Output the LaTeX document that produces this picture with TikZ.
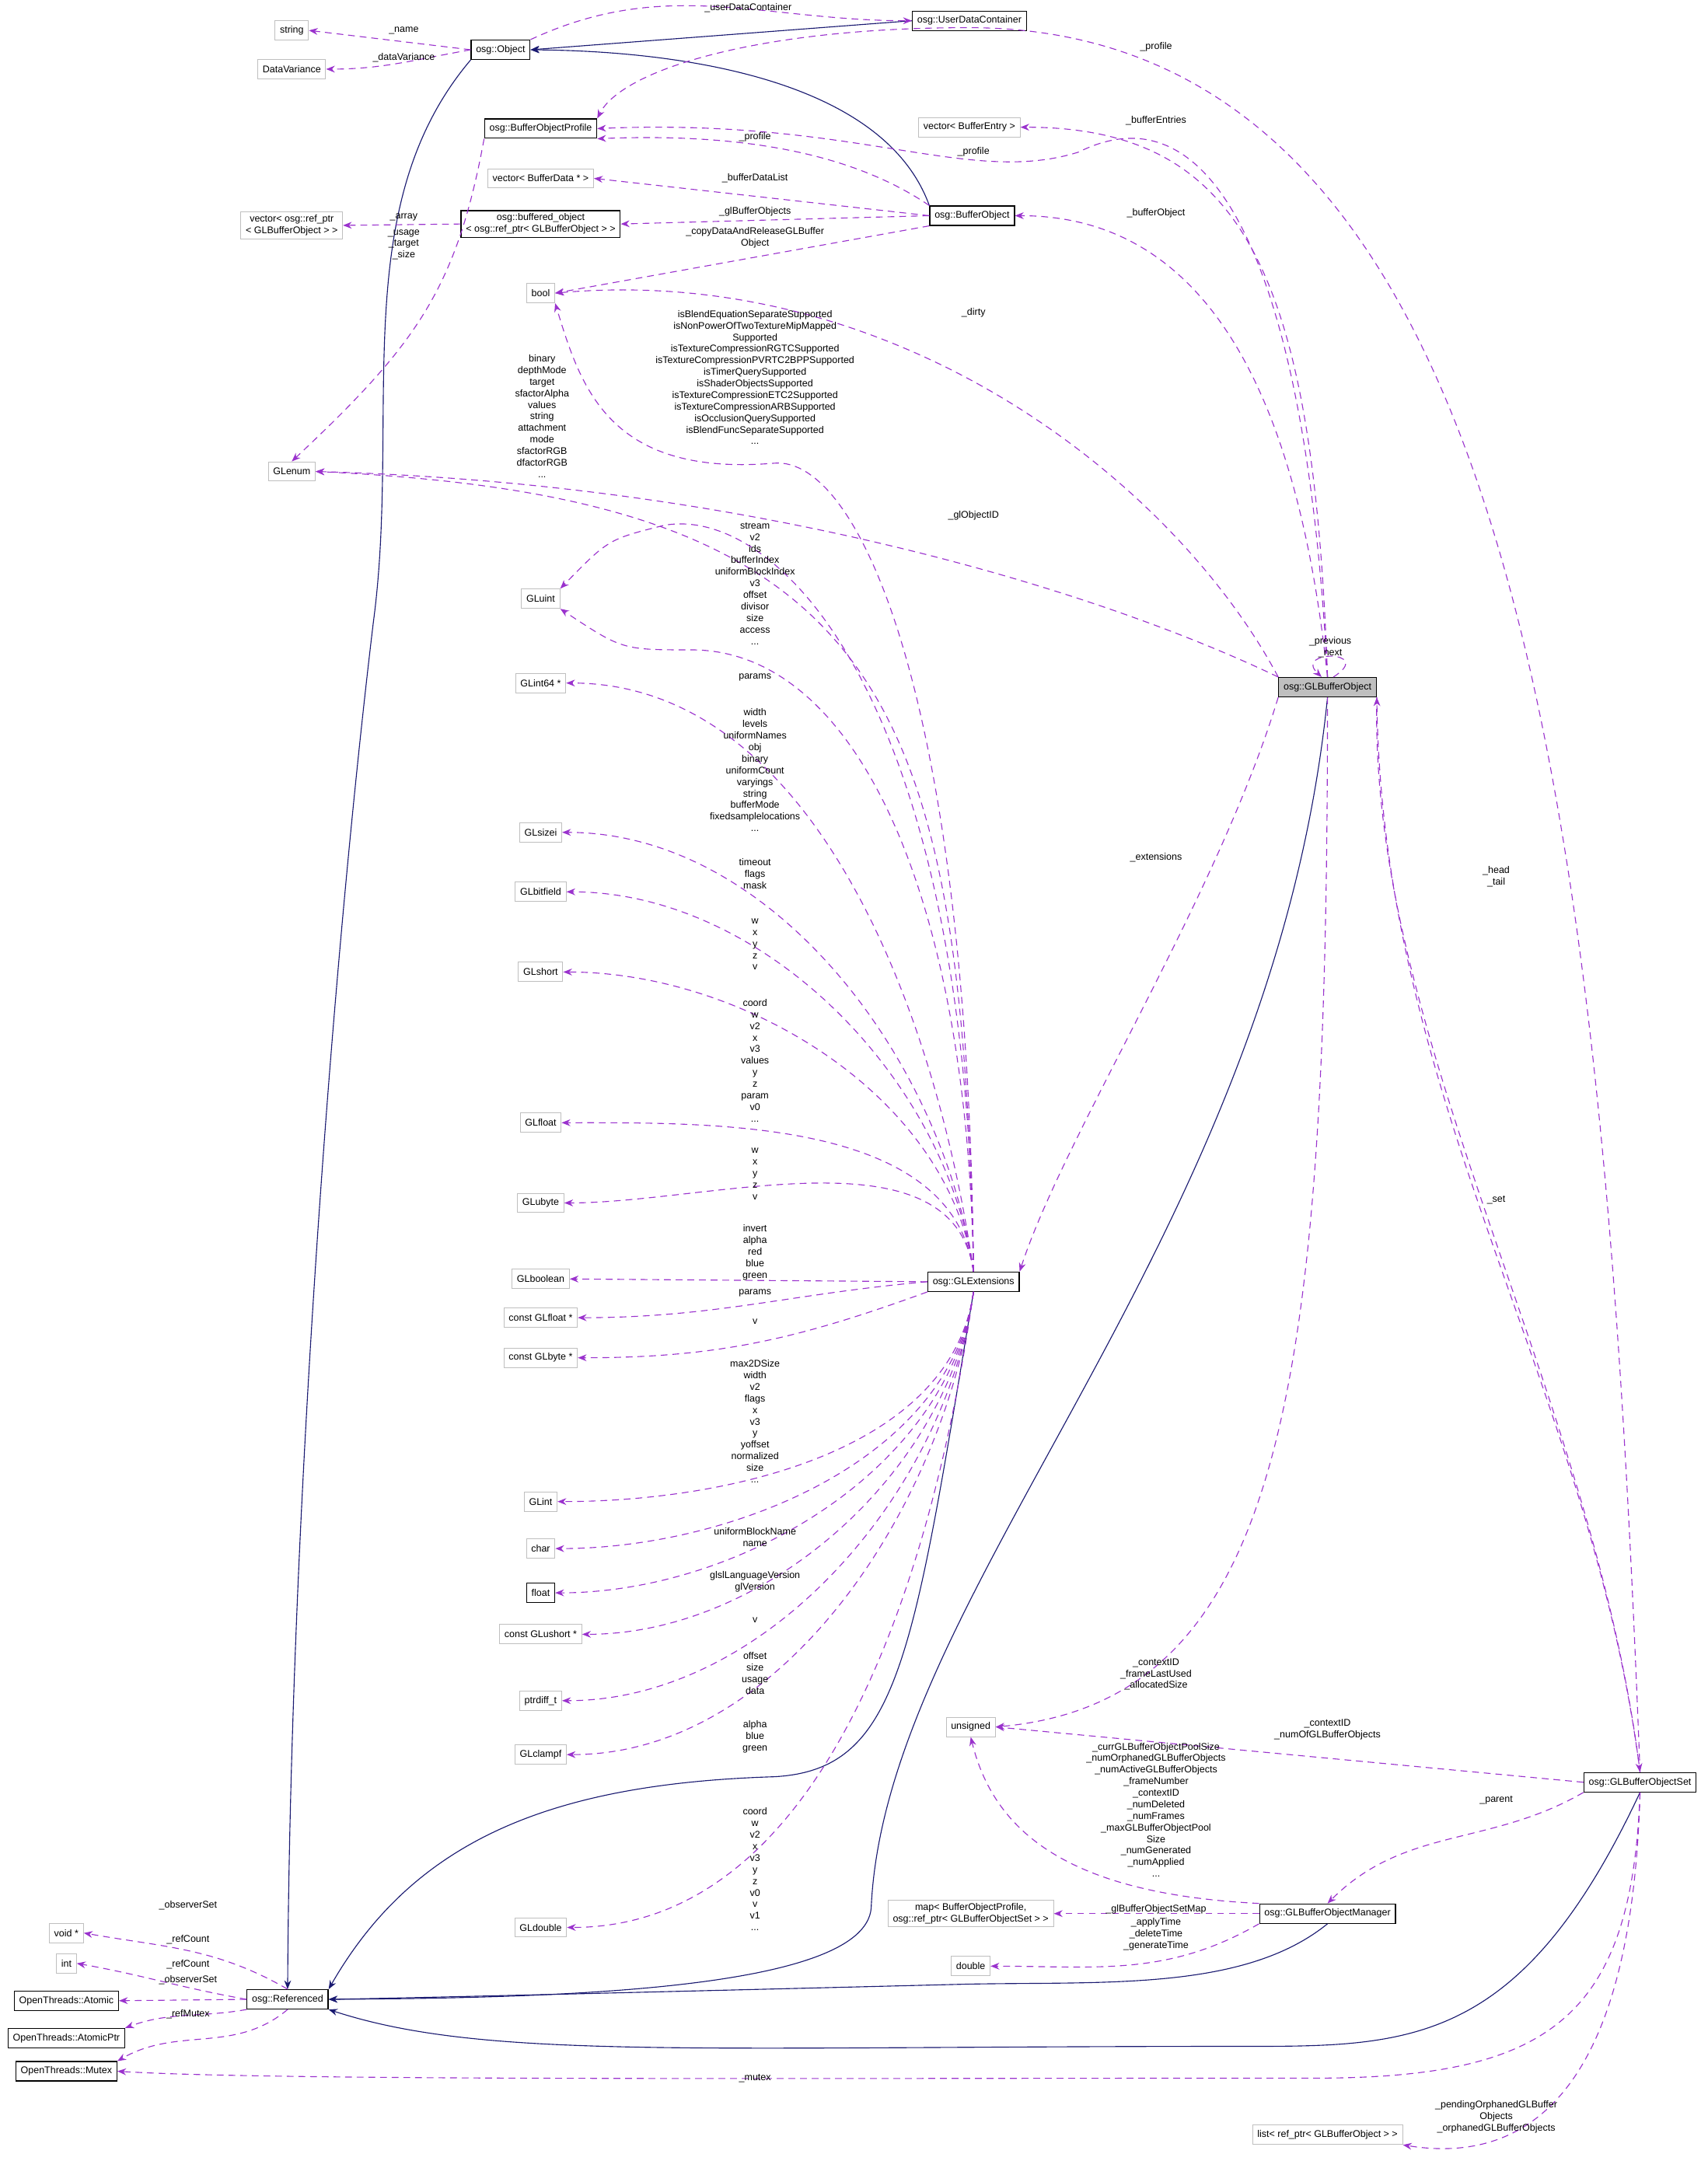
\documentclass[tikz,border=0pt]{standalone}
\usepackage{fontspec}
\setmainfont{Liberation Sans}
\usetikzlibrary{arrows.meta}
\definecolor{mem}{HTML}{9A32CD}
\definecolor{inhc}{HTML}{191970}
\definecolor{gb}{HTML}{BFBFBF}
\tikzset{
 box/.style={draw=gb,line width=0.8pt,rectangle,minimum height=0.7cm,inner xsep=5pt,inner ysep=2pt,font=\fontsize{10}{12}\selectfont,align=center,fill=white},
 cbox/.style={box,draw=black,line width=1pt},
 memb/.style={draw=mem,dash pattern=on 7pt off 5pt,line width=0.9pt,-{Stealth[length=9pt,width=7pt]}},
 inh/.style={draw=inhc,line width=0.9pt,-{Stealth[length=9pt,width=7pt]}},
 lbl/.style={font=\fontsize{10}{11.9}\selectfont,align=center,inner sep=0pt}
}
\begin{document}
\begin{tikzpicture}[x=0.05cm,y=-0.05cm]
\useasboundingbox (0,0) rectangle (1235,1568);
% nodes
\node[box] (str) at (211,22) {string};
\node[box] (dv) at (211,50) {DataVariance};
\node[cbox] (obj) at (362,36) {osg::Object};
\node[cbox] (udc) at (701,15) {osg::UserDataContainer};
\node[cbox] (bop) at (391,93) {osg::BufferObjectProfile};
\node[box] (vbe) at (701,92) {vector< BufferEntry >};
\node[box] (vbd) at (391,129) {vector< BufferData * >};
\node[box,inner ysep=3pt] (vref) at (211,163) {vector< osg::ref\_ptr\\< GLBufferObject > >};
\node[cbox,inner ysep=3pt] (bof) at (391,162) {osg::buffered\_object\\< osg::ref\_ptr< GLBufferObject > >};
\node[cbox] (bo) at (703,156) {osg::BufferObject};
\node[box] (bool) at (391,212) {bool};
\node[box] (glenum) at (211,341) {GLenum};
\node[box] (gluint) at (391,433) {GLuint};
\node[box] (gli64) at (391,494) {GLint64 *};
\node[box] (glsizei) at (391,602) {GLsizei};
\node[box] (glbf) at (391,645) {GLbitfield};
\node[box] (glshort) at (391,703) {GLshort};
\node[box] (glfloat) at (391,812) {GLfloat};
\node[box] (glubyte) at (391,870) {GLubyte};
\node[box] (glbool) at (391,925) {GLboolean};
\node[box] (cglf) at (391,953) {const GLfloat *};
\node[box] (cglb) at (391,982) {const GLbyte *};
\node[box] (glint) at (391,1086) {GLint};
\node[box] (chr) at (391,1120) {char};
\node[cbox] (flt) at (391,1152) {float};
\node[box] (cglus) at (391,1182) {const GLushort *};
\node[box] (ptrd) at (391,1230) {ptrdiff\_t};
\node[box] (glclampf) at (391,1269) {GLclampf};
\node[box] (gldouble) at (391,1394) {GLdouble};
\node[cbox] (ext) at (704,927) {osg::GLExtensions};
\node[cbox,fill=gb] (glbo) at (960,497) {osg::GLBufferObject};
\node[box] (uns) at (702,1249) {unsigned};
\node[cbox] (set) at (1186,1289) {osg::GLBufferObjectSet};
\node[cbox] (mgr) at (960,1384) {osg::GLBufferObjectManager};
\node[box,inner ysep=3pt] (map) at (702,1384) {map< BufferObjectProfile,\\ osg::ref\_ptr< GLBufferObjectSet > >};
\node[box] (dbl) at (702,1422) {double};
\node[box] (lst) at (960,1544) {list< ref\_ptr< GLBufferObject > >};
\node[box] (voidp) at (48,1398) {void *};
\node[box] (int) at (48,1420) {int};
\node[cbox] (atom) at (48,1447) {OpenThreads::Atomic};
\node[cbox] (atomp) at (48,1474) {OpenThreads::AtomicPtr};
\node[cbox] (mutex) at (48,1498) {OpenThreads::Mutex};
\node[cbox] (ref) at (208,1446) {osg::Referenced};

% inheritance
\draw[inh] (udc.west) -- (obj.east);
\draw[inh] (bo.north west) .. controls (640,60) and (500,37) .. (obj.east);
\draw[inh] (obj.south west) .. controls (250,150) and (290,300) .. (270,450) .. controls (240,700) and (210,1100) .. (ref.north);
\draw[inh] (ext.south) .. controls (660,1200) and (650,1280) .. (560,1285) .. controls (400,1290) and (300,1330) .. (ref.north east);
\draw[inh] (glbo.south) .. controls (920,900) and (640,1150) .. (630,1380) .. controls (625,1440) and (400,1445) .. (ref.east);
\draw[inh] (mgr.south) .. controls (900,1440) and (800,1433) .. (700,1435) .. controls (500,1440) and (300,1445) .. (ref.east);
\draw[inh] (set.south) .. controls (1100,1480) and (1020,1480) .. (900,1480) .. controls (500,1480) and (350,1490) .. (ref.south east);

% members
\draw[memb] (obj.west) -- (str.east);
\draw[memb] (obj.west) to[out=190,in=0] (dv.east);
\draw[memb] (obj.north east) to[out=25,in=180] (udc.west);
\draw[memb] (bop.south west) .. controls (330,210) and (300,250) .. (glenum.north);
\draw[memb] (bof.west) -- (vref.east);
\draw[memb] (bo.north west) .. controls (630,120) and (560,95) .. (bop.south east);
\draw[memb] (glbo.north) .. controls (945,200) and (880,60) .. (780,110) .. controls (700,135) and (620,85) .. (bop.east);
\draw[memb] (set.north) .. controls (1160,600) and (1100,20) .. (700,20) .. controls (550,20) and (450,50) .. (bop.north east);
\draw[memb] (glbo.north) .. controls (950,200) and (900,92) .. (vbe.east);
\draw[memb] (glbo.north) .. controls (940,300) and (880,156) .. (bo.east);
\draw[memb] (bo.west) -- (vbd.east);
\draw[memb] (bo.west) -- (bof.east);
\draw[memb] (bo.south west) -- (bool.east);
\draw[memb] (glbo.north west) .. controls (850,350) and (650,190) .. (bool.east);
\draw[memb] (ext.north) .. controls (700,500) and (620,330) .. (560,335) .. controls (440,345) and (420,280) .. (bool.south east);
\draw[memb] (glbo.north west) .. controls (800,430) and (550,350) .. (glenum.east);
\draw[memb] (ext.north) .. controls (695,500) and (640,360) .. (glenum.east);
\draw[memb] (ext.north) .. controls (700,500) and (560,365) .. (480,380) .. controls (440,390) .. (gluint.north east);
\draw[memb] (ext.north) .. controls (700,650) and (620,470) .. (500,470) .. controls (450,470) .. (gluint.south east);
\foreach \t in {gli64,glsizei,glbf,glshort,glfloat,glubyte}
  \draw[memb] (ext.north) to[out=98,in=0,looseness=0.9] (\t.east);
\draw[memb] (ext.west) -- (glbool.east);
\draw[memb] (ext.west) to[out=185,in=0] (cglf.east);
\draw[memb] (ext.south west) to[out=200,in=0] (cglb.east);
\foreach \t in {glint,chr,flt,cglus,ptrd,glclampf,gldouble}
  \draw[memb] (ext.south) to[out=-98,in=0,looseness=0.9] (\t.east);
\draw[memb] (glbo.south west) .. controls (880,650) and (770,820) .. (ext.north east);
\draw[memb] (glbo.60) .. controls (995,470) and (935,470) .. (glbo.120);
\draw[memb] (set.north) .. controls (1150,1000) and (1000,800) .. (glbo.south east);
\draw[memb] (glbo.south east) .. controls (990,750) and (1150,1000) .. (set.north);
\draw[memb] (glbo.south) .. controls (960,1000) and (930,1230) .. (uns.east);
\draw[memb] (set.west) -- (uns.east);
\draw[memb] (mgr.north west) .. controls (780,1370) and (720,1330) .. (uns.south);
\draw[memb] (set.south west) to[out=210,in=45] (mgr.north);
\draw[memb] (mgr.west) -- (map.east);
\draw[memb] (mgr.south west) to[out=-150,in=0] (dbl.east);
\draw[memb] (set.south) .. controls (1180,1520) and (1100,1565) .. (lst.south east);
\draw[memb] (set.south) .. controls (1180,1460) and (1120,1503) .. (950,1503) .. controls (600,1503) and (200,1505) .. (mutex.east);
\draw[memb] (ref.north) to[out=150,in=-10] (voidp.east);
\draw[memb] (ref.west) to[out=170,in=-10] (int.east);
\draw[memb] (ref.west) -- (atom.east);
\draw[memb] (ref.south west) to[out=190,in=20] (atomp.north east);
\draw[memb] (ref.south) to[out=-140,in=30] (mutex.north east);

% labels
\node[lbl] at (541,6) {\_userDataContainer};
\node[lbl] at (292,22) {\_name};
\node[lbl] at (292,42) {\_dataVariance};
\node[lbl] at (836,34) {\_profile};
\node[lbl] at (836,87) {\_bufferEntries};
\node[lbl] at (704,110) {\_profile};
\node[lbl] at (546,99) {\_profile};
\node[lbl] at (546,129) {\_bufferDataList};
\node[lbl] at (546,153) {\_glBufferObjects};
\node[lbl] at (546,172) {\_copyDataAndReleaseGLBuffer\\Object};
\node[lbl] at (836,154) {\_bufferObject};
\node[lbl] at (292,157) {\_array};
\node[lbl] at (292,177) {\_usage\\\_target\\\_size};
\node[lbl] at (704,226) {\_dirty};
\node[lbl] at (546,273) {isBlendEquationSeparateSupported\\isNonPowerOfTwoTextureMipMapped\\Supported\\isTextureCompressionRGTCSupported\\isTextureCompressionPVRTC2BPPSupported\\isTimerQuerySupported\\isShaderObjectsSupported\\isTextureCompressionETC2Supported\\isTextureCompressionARBSupported\\isOcclusionQuerySupported\\isBlendFuncSeparateSupported\\...};
\node[lbl] at (392,301) {binary\\depthMode\\target\\sfactorAlpha\\values\\string\\attachment\\mode\\sfactorRGB\\dfactorRGB\\...};
\node[lbl] at (704,373) {\_glObjectID};
\node[lbl] at (546,422) {stream\\v2\\ids\\bufferIndex\\uniformBlockIndex\\v3\\offset\\divisor\\size\\access\\...};
\node[lbl] at (546,490) {params};
\node[lbl] at (546,557) {width\\levels\\uniformNames\\obj\\binary\\uniformCount\\varyings\\string\\bufferMode\\fixedsamplelocations\\...};
\node[lbl] at (546,632) {timeout\\flags\\mask};
\node[lbl] at (546,683) {w\\x\\y\\z\\v};
\node[lbl] at (546,767) {coord\\w\\v2\\x\\v3\\values\\y\\z\\param\\v0\\...};
\node[lbl] at (546,849) {w\\x\\y\\z\\v};
\node[lbl] at (546,906) {invert\\alpha\\red\\blue\\green};
\node[lbl] at (546,935) {params};
\node[lbl] at (546,956) {v};
\node[lbl] at (546,1028) {max2DSize\\width\\v2\\flags\\x\\v3\\y\\yoffset\\normalized\\size\\...};
\node[lbl] at (546,1112) {uniformBlockName\\name};
\node[lbl] at (546,1144) {glslLanguageVersion\\glVersion};
\node[lbl] at (546,1172) {v};
\node[lbl] at (546,1210) {offset\\size\\usage\\data};
\node[lbl] at (546,1256) {alpha\\blue\\green};
\node[lbl] at (546,1352) {coord\\w\\v2\\x\\v3\\y\\z\\v0\\v\\v1\\...};
\node[lbl] at (962,468) {\_previous\\\_next};
\node[lbl] at (836,620) {\_extensions};
\node[lbl] at (1082,634) {\_head\\\_tail};
\node[lbl] at (1082,868) {\_set};
\node[lbl] at (836,1211) {\_contextID\\\_frameLastUsed\\\_allocatedSize};
\node[lbl] at (960,1251) {\_contextID\\\_numOfGLBufferObjects};
\node[lbl] at (836,1309) {\_currGLBufferObjectPoolSize\\\_numOrphanedGLBufferObjects\\\_numActiveGLBufferObjects\\\_frameNumber\\\_contextID\\\_numDeleted\\\_numFrames\\\_maxGLBufferObjectPool\\Size\\\_numGenerated\\\_numApplied\\...};
\node[lbl] at (1082,1302) {\_parent};
\node[lbl] at (836,1381) {\_glBufferObjectSetMap};
\node[lbl] at (836,1399) {\_applyTime\\\_deleteTime\\\_generateTime};
\node[lbl] at (136,1378) {\_observerSet};
\node[lbl] at (136,1403) {\_refCount};
\node[lbl] at (136,1421) {\_refCount};
\node[lbl] at (136,1432) {\_observerSet};
\node[lbl] at (136,1457) {\_refMutex};
\node[lbl] at (546,1503) {\_mutex};
\node[lbl] at (1082,1531) {\_pendingOrphanedGLBuffer\\Objects\\\_orphanedGLBufferObjects};
\end{tikzpicture}
\end{document}
